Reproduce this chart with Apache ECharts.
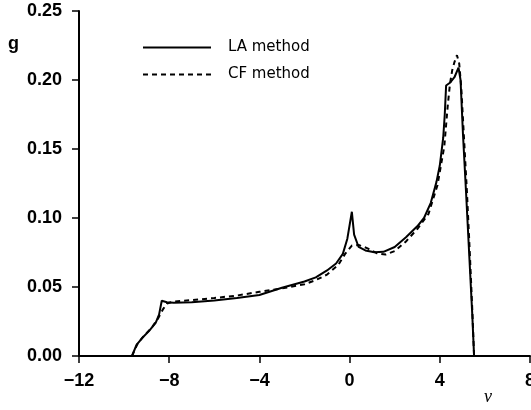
<!DOCTYPE html>
<html>
<head>
<meta charset="utf-8">
<script src="https://cdn.jsdelivr.net/npm/echarts@6/dist/echarts.min.js"></script>
<style>
html,body{margin:0;padding:0;background:#fff;}
#chart{width:531px;height:410px;}
</style>
</head>
<body>
<div id="chart"></div>
<script>
// Data
var laX = [-9.65, -9.45, -9.2, -8.9, -8.6, -8.45, -8.33, -8.1, -7.8, -7, -6, -5, -4, -3, -2, -1.5, -1, -0.6, -0.3, -0.1, 0.1, 0.2, 0.4, 0.7, 1.1, 1.5, 2, 2.5, 3, 3.3, 3.6, 3.85, 4.0, 4.15, 4.22, 4.28, 4.45, 4.65, 4.83, 4.92, 5.03, 5.16, 5.30, 5.44, 5.52];
var laY = [0, 0.008, 0.013, 0.018, 0.024, 0.030, 0.040, 0.039, 0.0386, 0.039, 0.0403, 0.042, 0.0442, 0.0495, 0.054, 0.057, 0.062, 0.067, 0.074, 0.085, 0.1045, 0.088, 0.079, 0.0765, 0.0752, 0.0755, 0.079, 0.086, 0.094, 0.100, 0.111, 0.126, 0.138, 0.158, 0.175, 0.196, 0.198, 0.202, 0.209, 0.200, 0.160, 0.120, 0.075, 0.030, 0];

var cfX = [-9.65, -9.4, -9.1, -8.8, -8.5, -8.27, -8.1, -7.8, -7, -6, -5, -4, -3, -2, -1.5, -1, -0.5, -0.2, 0.1, 0.4, 0.8, 1.2, 1.6, 2.0, 2.5, 3.0, 3.5, 3.9, 4.2, 4.35, 4.45, 4.55, 4.65, 4.76, 4.86, 4.95, 5.05, 5.2, 5.33, 5.45, 5.52];
var cfY = [0, 0.009, 0.015, 0.020, 0.027, 0.034, 0.038, 0.0395, 0.0405, 0.042, 0.0438, 0.0465, 0.049, 0.052, 0.055, 0.059, 0.066, 0.074, 0.080, 0.0805, 0.078, 0.0745, 0.0735, 0.076, 0.083, 0.092, 0.103, 0.124, 0.152, 0.181, 0.197, 0.207, 0.213, 0.218, 0.212, 0.195, 0.165, 0.120, 0.075, 0.030, 0];

var seriesNames = ['LA method', 'CF method'];
var xTicks = { min: -12, max: 8, interval: 4 };
var yTicks = { min: 0, max: 0.25, interval: 0.05 };

function pairs(xs, ys) { return xs.map(function (x, i) { return [x, ys[i]]; }); }

var chart = echarts.init(document.getElementById('chart'), null, { renderer: 'canvas' });
var FONT = "'Liberation Sans', Arial, Helvetica, sans-serif";
var labelFont = { color: '#000', fontSize: 18, fontWeight: 'bold', fontFamily: FONT };

chart.setOption({
  animation: false,
  backgroundColor: '#fff',
  grid: { left: 79, right: 1, top: 11, bottom: 54, containLabel: false, outerBoundsMode: 'none' },
  legend: {
    data: seriesNames,
    orient: 'vertical',
    left: 142, top: 40,
    itemWidth: 68, itemHeight: 14, itemGap: 12,
    padding: 0,
    itemStyle: { opacity: 0 },
    textStyle: { color: '#000', fontSize: 15, fontFamily: "'DejaVu Sans', sans-serif", padding: [0, 0, 0, 12] }
  },
  xAxis: {
    type: 'value', min: xTicks.min, max: xTicks.max, interval: xTicks.interval,
    axisLine: { show: true, onZero: false, lineStyle: { color: '#000', width: 2 } },
    axisTick: { show: true, inside: false, length: 7, lineStyle: { color: '#000', width: 1.5 } },
    splitLine: { show: false },
    axisLabel: Object.assign({ margin: 16, formatter: function (v) { return String(v).replace('-', '\u2212'); } }, labelFont)
  },
  yAxis: {
    type: 'value', min: yTicks.min, max: yTicks.max, interval: yTicks.interval,
    axisLine: { show: true, onZero: false, lineStyle: { color: '#000', width: 2 } },
    axisTick: { show: true, inside: false, length: 7, lineStyle: { color: '#000', width: 1.5 } },
    splitLine: { show: false },
    axisLabel: Object.assign({ margin: 17, formatter: function (v) { return v.toFixed(2); } }, labelFont)
  },
  series: [
    { name: seriesNames[0], type: 'line', data: pairs(laX, laY), symbol: 'none', showSymbol: false,
      lineStyle: { color: '#000', width: 2, type: 'solid' }, itemStyle: { color: '#000' } },
    { name: seriesNames[1], type: 'line', data: pairs(cfX, cfY), symbol: 'none', showSymbol: false,
      lineStyle: { color: '#000', width: 2, type: [5, 4] }, itemStyle: { color: '#000' } }
  ],
  graphic: [
    { type: 'text', left: 8, top: 35, style: { text: 'g', fill: '#000', fontSize: 18, fontWeight: 'bold', fontFamily: FONT } },
    { type: 'text', left: 484, top: 388, style: { text: 'ν', fill: '#000', fontSize: 18, fontStyle: 'italic', fontFamily: "'Liberation Serif', serif" } }
  ]
});
</script>
</body>
</html>
